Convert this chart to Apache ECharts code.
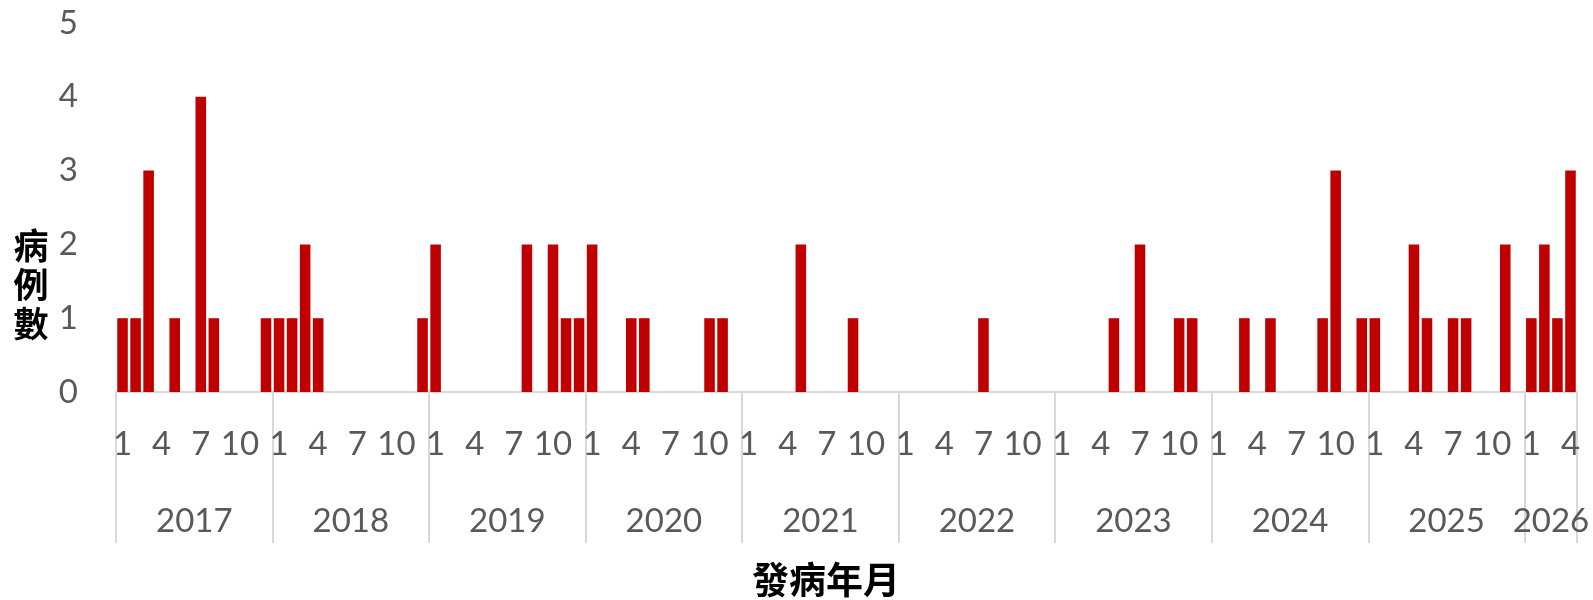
<!DOCTYPE html>
<html>
<head>
<meta charset="utf-8">
<script src="https://cdn.jsdelivr.net/npm/echarts@6/dist/echarts.min.js"></script>
<style>
html,body{margin:0;padding:0;background:#fff;}
#chart{width:1593px;height:600px;}
</style>
</head>
<body>
<div id="chart"></div>
<script>
// Years shown on the outer axis level
const years = ['2017','2018','2019','2020','2021','2022','2023','2024','2025','2026'];
// Monthly case counts per year (Jan..Dec); 2026 runs Jan..Apr
const cases2017 = [1,1,3,0,1,0,4,1,0,0,0,1];
const cases2018 = [1,1,2,1,0,0,0,0,0,0,0,1];
const cases2019 = [2,0,0,0,0,0,0,2,0,2,1,1];
const cases2020 = [2,0,0,1,1,0,0,0,0,1,1,0];
const cases2021 = [0,0,0,0,2,0,0,0,1,0,0,0];
const cases2022 = [0,0,0,0,0,0,1,0,0,0,0,0];
const cases2023 = [0,0,0,0,1,0,2,0,0,1,1,0];
const cases2024 = [0,0,1,0,1,0,0,0,1,3,0,1];
const cases2025 = [1,0,0,2,1,0,1,1,0,0,2,0];
const cases2026 = [1,2,1,3];
const monthTickLabels = [1,4,7,10];
const yTicks = [0,1,2,3,4,5];
const yTitle = '病例數';
const xTitle = '發病年月';

const perYear = [cases2017,cases2018,cases2019,cases2020,cases2021,cases2022,cases2023,cases2024,cases2025,cases2026];
const categories = [];
const values = [];
const yearStarts = [];
const yearMids = [];
let idx = 0;
perYear.forEach((arr, yi) => {
  yearStarts.push(idx);
  yearMids.push(idx + arr.length / 2);
  arr.forEach((v, mi) => {
    categories.push(years[yi] + '-' + (mi + 1));
    values.push(v);
    idx++;
  });
});
const total = idx;
yearStarts.push(total);

const gray = '#595959';
const lineGray = '#D9D9D9';
const latin = 'Lato, "Noto Sans", sans-serif';
const cjk = '"Noto Sans CJK TC", "Noto Sans CJK SC", sans-serif';

const chart = echarts.init(document.getElementById('chart'), null, {renderer: 'canvas'});
chart.setOption({
  animation: false,
  backgroundColor: '#ffffff',
  grid: {left: 116, right: 16, top: 23, bottom: 208, containLabel: false, outerBoundsMode: 'none'},
  xAxis: [
    {
      type: 'category',
      data: categories,
      position: 'bottom',
      axisLine: {show: true, lineStyle: {color: lineGray, width: 2}},
      axisTick: {show: false},
      axisLabel: {
        interval: function (i, v) {
          const m = parseInt(String(v).split('-')[1], 10);
          return monthTickLabels.indexOf(m) >= 0;
        },
        formatter: function (v) { return String(v).split('-')[1]; },
        color: gray,
        fontFamily: latin,
        fontSize: 33,
        margin: 52,
        verticalAlign: 'middle',
        hideOverlap: false
      },
      splitLine: {show: false}
    },
    {
      type: 'value',
      position: 'bottom',
      offset: 0,
      min: 0,
      max: total,
      axisLine: {show: false},
      axisTick: {
        show: true,
        customValues: yearStarts,
        length: 151,
        lineStyle: {color: lineGray, width: 2}
      },
      axisLabel: {
        show: true,
        customValues: yearMids,
        formatter: function (v) {
          const k = yearMids.indexOf(v);
          return k >= 0 ? years[k] : '';
        },
        color: gray,
        fontFamily: latin,
        fontSize: 33,
        margin: 129,
        verticalAlign: 'middle',
        hideOverlap: false
      },
      splitLine: {show: false}
    }
  ],
  yAxis: {
    type: 'value',
    min: yTicks[0],
    max: yTicks[yTicks.length - 1],
    interval: 1,
    axisLine: {show: false},
    axisTick: {show: false},
    splitLine: {show: false},
    axisLabel: {color: gray, fontFamily: latin, fontSize: 33, margin: 38}
  },
  series: [{
    type: 'bar',
    xAxisIndex: 0,
    data: values,
    barCategoryGap: '19%',
    itemStyle: {color: '#C00000'}
  }],
  graphic: [
    {
      type: 'text',
      x: 31, y: 285,
      style: {
        text: yTitle.split('').join('\n'),
        fill: '#000',
        font: 'bold 35px ' + cjk,
        lineHeight: 39,
        align: 'center',
        verticalAlign: 'middle'
      }
    },
    {
      type: 'text',
      x: 826, y: 580,
      style: {
        text: xTitle,
        fill: '#000',
        font: 'bold 37px ' + cjk,
        align: 'center',
        verticalAlign: 'middle'
      }
    }
  ]
});
</script>
</body>
</html>
